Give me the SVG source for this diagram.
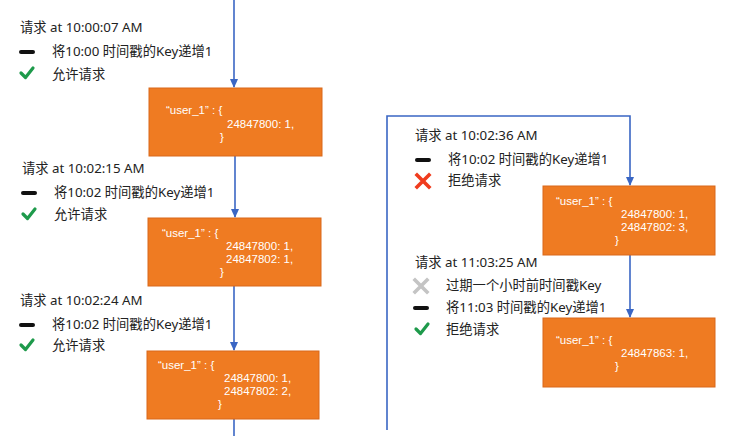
<svg xmlns="http://www.w3.org/2000/svg" width="729" height="436" viewBox="0 0 729 436">
<defs>
<style>
.lbl{font-family:"Noto Sans","Noto Sans CJK SC",sans-serif;font-size:13.3px;fill:#222}
.code{font-family:"Liberation Sans","Noto Sans CJK SC",sans-serif;font-size:11.5px;fill:#fff}
.box{fill:#EF7B22;stroke:#D9691A;stroke-width:1}
.con{stroke:#3A66C4;stroke-width:1.6;fill:none}
.dash{stroke:#111;stroke-width:4;stroke-linecap:round}
.chk{stroke:#1E9A4B;stroke-width:3.2;fill:none;stroke-linecap:round;stroke-linejoin:round}
.xr{stroke:#F03C1E;stroke-width:3.6;stroke-linecap:square}
.xg{stroke:#C4C4C4;stroke-width:3.6;stroke-linecap:square}
</style>
<marker id="arrow" viewBox="0 0 10 10" refX="9" refY="5" markerWidth="9" markerHeight="9" markerUnits="userSpaceOnUse" orient="auto">
<path d="M0,0.5 L10,5 L0,9.5 z" fill="#3A66C4"/>
</marker>
</defs>
<rect width="729" height="436" fill="#fff"/>
<g id="connectors">
<line class="con" x1="234" y1="0" x2="234" y2="87" marker-end="url(#arrow)"/>
<line class="con" x1="235" y1="156" x2="235" y2="217" marker-end="url(#arrow)"/>
<line class="con" x1="234" y1="286" x2="234" y2="350" marker-end="url(#arrow)"/>
<line class="con" x1="234" y1="419" x2="234" y2="436"/>
<path class="con" d="M387,430 V116 H630 V185" marker-end="url(#arrow)"/>
<line class="con" x1="630" y1="255" x2="630" y2="317" marker-end="url(#arrow)"/>
</g>
<g id="req1">
<text class="lbl" x="20" y="32">请求 at 10:00:07 AM</text>
<line class="dash" x1="21" y1="52" x2="33" y2="52"/>
<text class="lbl" x="52" y="56">将10:00 时间戳的Key递增1</text>
<path class="chk" d="M21,73 L25.5,77.5 L33,68"/>
<text class="lbl" x="52" y="79">允许请求</text>
</g>
<g id="box1">
<rect class="box" x="149" y="88" width="173" height="68"/>
<text class="code" x="166" y="114">“user_1” : {</text>
<text class="code" x="227" y="128">24847800: 1,</text>
<text class="code" x="220" y="141">}</text>
</g>
<g id="req2">
<text class="lbl" x="22" y="173">请求 at 10:02:15 AM</text>
<line class="dash" x1="23" y1="193" x2="35" y2="193"/>
<text class="lbl" x="54" y="197">将10:02 时间戳的Key递增1</text>
<path class="chk" d="M23,214 L27.5,218.5 L35,209"/>
<text class="lbl" x="54" y="219">允许请求</text>
</g>
<g id="box2">
<rect class="box" x="148" y="218" width="173" height="68"/>
<text class="code" x="162" y="237">“user_1” : {</text>
<text class="code" x="226" y="250">24847800: 1,</text>
<text class="code" x="226" y="263">24847802: 1,</text>
<text class="code" x="220" y="276">}</text>
</g>
<g id="req3">
<text class="lbl" x="20" y="305">请求 at 10:02:24 AM</text>
<line class="dash" x1="21" y1="325" x2="33" y2="325"/>
<text class="lbl" x="52" y="329">将10:02 时间戳的Key递增1</text>
<path class="chk" d="M21,345 L25.5,349.5 L33,340"/>
<text class="lbl" x="52" y="350">允许请求</text>
</g>
<g id="box3">
<rect class="box" x="147" y="351" width="172" height="68"/>
<text class="code" x="158" y="369">“user_1” : {</text>
<text class="code" x="224" y="382">24847800: 1,</text>
<text class="code" x="224" y="395">24847802: 2,</text>
<text class="code" x="218" y="408">}</text>
</g>
<g id="req4">
<text class="lbl" x="415" y="140">请求 at 10:02:36 AM</text>
<line class="dash" x1="417" y1="160" x2="429" y2="160"/>
<text class="lbl" x="448" y="164">将10:02 时间戳的Key递增1</text>
<path class="xr" d="M417,175 L429,187 M429,175 L417,187"/>
<text class="lbl" x="448" y="185">拒绝请求</text>
</g>
<g id="box4">
<rect class="box" x="543" y="186" width="172" height="69"/>
<text class="code" x="556" y="205">“user_1” : {</text>
<text class="code" x="621" y="218">24847800: 1,</text>
<text class="code" x="621" y="231">24847802: 3,</text>
<text class="code" x="615" y="244">}</text>
</g>
<g id="req5">
<text class="lbl" x="415" y="267">请求 at 11:03:25 AM</text>
<path class="xg" d="M415,280 L427,292 M427,280 L415,292"/>
<text class="lbl" x="446" y="290">过期一个小时前时间戳Key</text>
<line class="dash" x1="415" y1="308" x2="427" y2="308"/>
<text class="lbl" x="446" y="312">将11:03 时间戳的Key递增1</text>
<path class="chk" d="M416,329 L420.5,333.5 L428,324"/>
<text class="lbl" x="446" y="334">拒绝请求</text>
</g>
<g id="box5">
<rect class="box" x="543" y="318" width="172" height="69"/>
<text class="code" x="556" y="344">“user_1” : {</text>
<text class="code" x="621" y="357">24847863: 1,</text>
<text class="code" x="615" y="370">}</text>
</g>
</svg>
